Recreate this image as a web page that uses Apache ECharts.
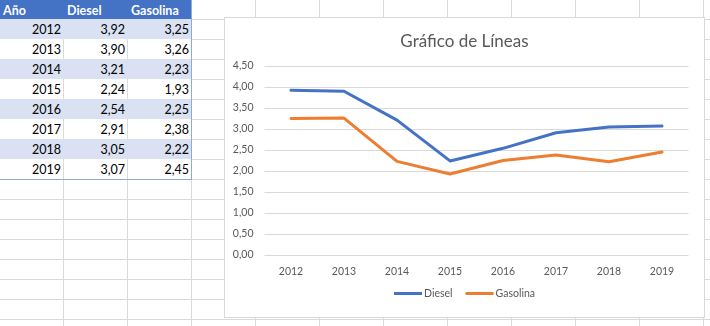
<!DOCTYPE html>
<html>
<head>
<meta charset="utf-8">
<script src="https://cdn.jsdelivr.net/npm/echarts@6/dist/echarts.min.js"></script>
<style>
  html, body { margin: 0; padding: 0; background: #fff; width: 710px; height: 326px; overflow: hidden; }
  #sheet { position: absolute; left: 0; top: 0; width: 710px; height: 326px; }
  .gl { position: absolute; background: #dadada; }
  .cell { position: absolute; height: 20px; line-height: 22px; font-family: Lato, sans-serif; font-size: 12.5px; color: #000; box-sizing: border-box; }
  .num { text-align: right; padding-right: 2px; }
  .hdr { color: #fff; font-weight: bold; text-align: left; padding-left: 3px; line-height: 21px; }
  #chartBox { position: absolute; left: 224px; top: 17px; width: 481px; height: 301px; box-sizing: border-box; border: 1px solid #d9d9d9; background: #fff; }
  #chart { width: 479px; height: 299px; }
</style>
</head>
<body>
<div id="sheet"></div>
<div id="chartBox"><div id="chart"></div></div>
<script>
// Fuel prices per year
const years = ['2012', '2013', '2014', '2015', '2016', '2017', '2018', '2019'];
const diesel = [3.92, 3.90, 3.21, 2.24, 2.54, 2.91, 3.05, 3.07];
const gasolina = [3.25, 3.26, 2.23, 1.93, 2.25, 2.38, 2.22, 2.45];
const headers = ['Año', 'Diesel', 'Gasolina'];

const fmt = v => v.toFixed(2).replace('.', ',');

// Spreadsheet grid and table
const sheet = document.getElementById('sheet');
function box(cls, l, t, w, h, color) {
  const d = document.createElement('div');
  d.className = cls;
  d.style.left = l + 'px'; d.style.top = t + 'px';
  d.style.width = w + 'px'; d.style.height = h + 'px';
  if (color) d.style.background = color;
  sheet.appendChild(d);
  return d;
}
for (let x = 63; x < 710; x += 64) box('gl', x, 0, 1, 326);
for (let y = 19; y < 326; y += 20) box('gl', 0, y, 710, 1);

// header row
box('gl', 0, 0, 192, 19, '#4472c4');
headers.forEach((h, i) => {
  const c = box('cell hdr', i * 64, 0, 64, 19);
  c.textContent = h;
});
// body rows
years.forEach((yr, i) => {
  const top = 19 + i * 20;
  box('gl', 0, top, 191, 20, i % 2 === 0 ? '#d9e1f2' : '#ffffff');
  if (i % 2 === 1) {
    box('gl', 63, top, 1, 20, '#dadada');
    box('gl', 127, top, 1, 20, '#dadada');
  }
  box('gl', 0, top + 20, 192, 1, '#8ea9db');
  [yr, fmt(diesel[i]), fmt(gasolina[i])].forEach((t, j) => {
    const c = box('cell num', j * 64, top, 63, 20);
    c.textContent = t;
  });
});
box('gl', 191, 0, 1, 180, '#8ea9db');

// Line chart
const chart = echarts.init(document.getElementById('chart'), null, { renderer: 'canvas' });
const txt = '#595959';
chart.setOption({
  animation: false,
  textStyle: { fontFamily: 'Lato, sans-serif' },
  title: {
    text: 'Gráfico de Líneas',
    left: 'center',
    top: 10,
    textStyle: { fontFamily: 'Lato, sans-serif', fontSize: 17, fontWeight: 'normal', color: txt }
  },
  legend: {
    bottom: 13,
    left: 'center',
    icon: 'rect',
    itemWidth: 28,
    itemHeight: 3,
    itemGap: 13,
    textStyle: { fontFamily: 'Lato, sans-serif', fontSize: 10.5, color: txt, padding: [0, 0, 0, -3] },
    data: ['Diesel', 'Gasolina']
  },
  grid: { left: 39.5, right: 15.5, top: 48, bottom: 62, containLabel: false },
  xAxis: {
    type: 'category',
    data: years,
    boundaryGap: true,
    axisLine: { show: false },
    axisTick: { show: false },
    axisLabel: { color: txt, fontSize: 10.5, margin: 11, fontFamily: 'Lato, sans-serif' }
  },
  yAxis: {
    type: 'value',
    min: 0, max: 4.5, interval: 0.5,
    axisLabel: { color: txt, fontSize: 10.5, margin: 11, fontFamily: 'Lato, sans-serif', formatter: v => fmt(v) },
    splitLine: { lineStyle: { color: '#d9d9d9', width: 1 } },
    axisLine: { show: false },
    axisTick: { show: false }
  },
  series: [
    { name: 'Diesel', type: 'line', data: diesel, symbol: 'none', lineStyle: { color: '#4472c4', width: 3, cap: 'round', join: 'round' }, itemStyle: { color: '#4472c4' } },
    { name: 'Gasolina', type: 'line', data: gasolina, symbol: 'none', lineStyle: { color: '#ed7d31', width: 3, cap: 'round', join: 'round' }, itemStyle: { color: '#ed7d31' } }
  ]
});
</script>
</body>
</html>
